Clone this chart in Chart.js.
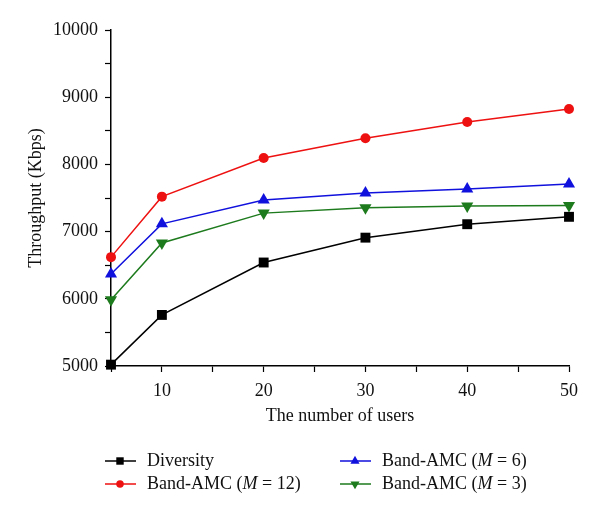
<!DOCTYPE html>
<html>
<head>
<meta charset="utf-8">
<script src="https://cdn.jsdelivr.net/npm/chart.js@4/dist/chart.umd.min.js"></script>
<style>
  html, body { margin: 0; padding: 0; background: #fff; }
  #wrap { width: 600px; height: 515px; }
</style>
</head>
<body>
<div id="wrap"><canvas id="myChart" width="600" height="515"></canvas></div>
<script>
// data
const users = [5, 10, 20, 30, 40, 50];
const diversity = [5020, 5760, 6540, 6910, 7110, 7220];
const amc12 = [6620, 7520, 8095, 8390, 8630, 8825];
const amc6 = [6370, 7115, 7470, 7575, 7635, 7710];
const amc3 = [5985, 6830, 7275, 7355, 7380, 7390];
const seriesNames = ["Diversity", "Band-AMC (M = 12)", "Band-AMC (M = 6)", "Band-AMC (M = 3)"];
const xTicks = [10, 20, 30, 40, 50];
const yTicks = [5000, 6000, 7000, 8000, 9000, 10000];

const serif = "'Liberation Serif', 'DejaVu Serif', serif";

const mk = (label, vals, color, style, radius, rotation) => ({
  label: label,
  data: vals.map((v, i) => ({ x: users[i], y: v })),
  borderColor: color,
  backgroundColor: color,
  borderWidth: 1.5,
  pointStyle: style,
  pointRadius: radius,
  pointRotation: rotation || 0,
  pointBorderWidth: 0,
  pointBackgroundColor: color,
  tension: 0,
  clip: false,
});

const datasets = [
  mk(seriesNames[0], diversity, "#000000", "rect", 7),
  mk(seriesNames[1], amc12, "#ee1111", "circle", 5),
  mk(seriesNames[2], amc6, "#1111dd", "triangle", 7),
  mk(seriesNames[3], amc3, "#1d7a1d", "triangle", 7, 180),
];

// legend drawn by hand: 2 columns, italic M
const legendPlugin = {
  id: "sideLegend",
  afterDraw(chart) {
    const ctx = chart.ctx;
    const spots = [
      [105, 461], [105, 484], [340, 461], [340, 484],
    ];
    chart.data.datasets.forEach((ds, i) => {
      const [x, y] = spots[i];
      ctx.save();
      ctx.strokeStyle = ds.borderColor;
      ctx.fillStyle = ds.borderColor;
      ctx.lineWidth = 1.5;
      ctx.beginPath();
      ctx.moveTo(x, y);
      ctx.lineTo(x + 31, y);
      ctx.stroke();
      Chart.helpers.drawPoint(ctx, {
        pointStyle: ds.pointStyle,
        rotation: ds.pointRotation,
        radius: ds.pointRadius * 0.75,
        borderWidth: 0,
      }, x + 15, y);
      ctx.fillStyle = "#111";
      ctx.textBaseline = "middle";
      ctx.textAlign = "left";
      let tx = x + 42;
      const name = ds.label;
      const idx = name.indexOf("(M");
      const normal = "18px " + serif;
      if (idx < 0) {
        ctx.font = normal;
        ctx.fillText(name, tx, y);
      } else {
        const parts = [name.slice(0, idx + 1), "M", name.slice(idx + 2)];
        parts.forEach((p, k) => {
          ctx.font = (k === 1 ? "italic " : "") + normal;
          ctx.fillText(p, tx, y);
          tx += ctx.measureText(p).width;
        });
      }
      ctx.restore();
    });
  },
};

const config = {
  type: "line",
  data: { datasets: datasets },
  options: {
    responsive: false,
    animation: false,
    layout: { padding: { top: 30, right: 31, bottom: 88, left: 0 } },
    plugins: {
      legend: { display: false },
      tooltip: { enabled: false },
    },
    scales: {
      x: {
        type: "linear",
        min: 5,
        max: 50,
        afterBuildTicks: (scale) => {
          const t = [];
          for (let v = 5; v <= 50; v += 5) t.push({ value: v });
          scale.ticks = t;
        },
        afterFit: (scale) => { scale.height = 61; },
        border: { display: true, color: "#000", width: 1.5 },
        grid: { drawOnChartArea: false, color: "#000", tickLength: 6, tickWidth: 1.2 },
        ticks: {
          color: "#111",
          font: { family: serif, size: 18 },
          padding: 8,
          maxRotation: 0,
          autoSkip: false,
          callback: (v) => (xTicks.includes(v) ? String(v) : ""),
        },
        title: {
          display: true,
          text: "The number of users",
          color: "#111",
          font: { family: serif, size: 18 },
          padding: { top: 0, bottom: 0 },
        },
      },
      y: {
        min: 5000,
        max: 10000,
        afterBuildTicks: (scale) => {
          const t = [];
          for (let v = 5000; v <= 10000; v += 500) t.push({ value: v });
          scale.ticks = t;
        },
        afterFit: (scale) => { scale.width = 111; },
        border: { display: true, color: "#000", width: 1.5 },
        grid: { drawOnChartArea: false, color: "#000", tickLength: 6, tickWidth: 1.2 },
        ticks: {
          color: "#111",
          font: { family: serif, size: 18 },
          padding: 7,
          autoSkip: false,
          callback: (v) => (yTicks.includes(v) ? String(v) : ""),
        },
        title: {
          display: true,
          text: "Throughput (Kbps)",
          color: "#111",
          font: { family: serif, size: 18 },
          padding: { top: 25, bottom: 0 },
        },
      },
    },
  },
  plugins: [legendPlugin],
};

const myChart = new Chart(document.getElementById("myChart"), config);
</script>
</body>
</html>
